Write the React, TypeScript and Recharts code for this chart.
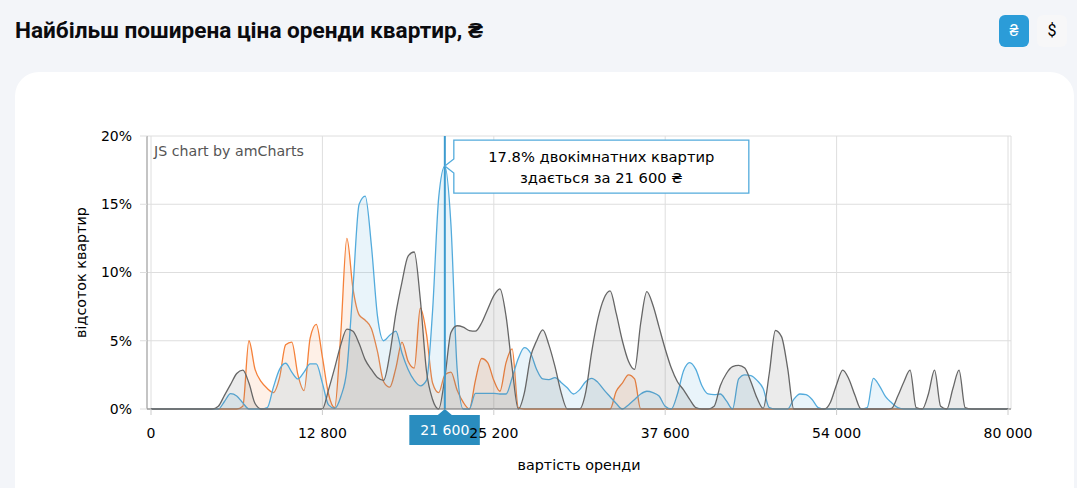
import { AreaChart, Area, XAxis, YAxis, CartesianGrid, ReferenceLine, ReferenceDot } from "recharts";

const prices = [
  0, 500, 900, 1400, 1800, 2300, 2700, 3200, 3700, 4100,
  4600, 5000, 5500, 5900, 6400, 6900, 7300, 7800, 8200, 8700,
  9100, 9600, 10100, 10500, 11000, 11400, 11900, 12300, 12800, 13200,
  13700, 14100, 14600, 15000, 15400, 15900, 16300, 16800, 17200, 17600,
  18100, 18500, 18900, 19400, 19800, 20300, 20700, 21100, 21600, 22000,
  22500, 22900, 23400, 23900, 24300, 24800, 25200, 25600, 26100, 26500,
  27000, 27400, 27900, 28300, 28700, 29200, 29600, 30100, 30500, 31000,
  31400, 31800, 32300, 32700, 33200, 33600, 34100, 34500, 34900, 35400,
  35800, 36300, 36700, 37200, 37600, 38200, 38800, 39300, 39900, 40500,
  41100, 41700, 42300, 42900, 43400, 44000, 44600, 45200, 45800, 46400,
  47000, 47600, 48100, 48700, 49300, 49900, 50500, 51000, 51600, 52200,
  52800, 53400, 54000, 54900, 55900, 56800, 57700, 58600, 59600, 60500,
  61400, 62400, 63300, 64200, 65100, 66100, 67000, 67900, 68900, 69800,
  70700, 71600, 72600, 73500, 74400, 75400, 76300, 77200, 78100, 79100,
  80000,
];

const oneRoom = [
  0, 0, 0, 0, 0, 0, 0, 0, 0, 0,
  0, 0, 0, 0, 0, 0.2, 5, 2.9, 2, 1.5,
  1.2, 2.3, 4.7, 4.9, 2.5, 1.35, 5.2, 6.2, 3.8, 1.1,
  0.1, 5.5, 12.5, 8.8, 6.9, 6.5, 5.9, 4.2, 2, 1.6,
  3, 4.9, 3.5, 3, 7.4, 5.5, 1.9, 1.2, 2.5, 2.7,
  1.4, 0.5, 0, 2.1, 3.7, 3.4, 2.1, 1.3, 3.4, 4.4,
  0.1, 0, 0, 0, 0, 0, 0, 0, 0, 0,
  0, 0, 0, 0, 0, 0, 1.3, 1.9, 2.5, 2.2,
  0, 0, 0, 0, 0, 0, 0, 0, 0, 0,
  0, 0, 0, 0, 0, 0, 0, 0, 0, 0,
  0, 0, 0, 0, 0, 0, 0, 0, 0, 0,
  0, 0, 0, 0, 0, 0, 0, 0, 0, 0,
  0, 0, 0, 0, 0, 0, 0, 0, 0, 0,
  0, 0, 0, 0, 0, 0, 0, 0, 0, 0,
  0,
];

const twoRoom = [
  0, 0, 0, 0, 0, 0, 0, 0, 0, 0,
  0, 0, 0.55, 1.12, 0.95, 0.45, 0, 0, 0, 0.1,
  1.6, 2.9, 3.35, 2.7, 2.2, 2.7, 3.3, 3.3, 1.9, 0.3,
  0.05, 0.9, 2.9, 8.9, 15, 15.6, 12, 6.8, 5, 5.4,
  5.7, 4.1, 2.9, 2.1, 1.7, 2.1, 7.2, 15.5, 17.8, 13.5,
  3, 0, 0, 1.15, 1.15, 1.15, 1.15, 1.1, 1.1, 2.3,
  3.7, 4.5, 4.1, 2.9, 2.2, 2.15, 2.3, 1.95, 1.55, 1.1,
  1.4, 2, 2.25, 1.95, 1.4, 0.9, 0.4, 0, 0.3, 0.7,
  1.1, 1.3, 1.2, 0.95, 0.2, 0, 1.1, 2.8, 3.4, 2.9,
  1.7, 1.1, 1.05, 1.1, 0.6, 0, 2.2, 2.5, 2.45, 2.1,
  1.5, 0.1, 0, 0, 0, 0.7, 1.1, 1.05, 0.7, 0.1,
  0, 0, 0, 0, 0, 0, 0, 0.1, 2.25, 1.7,
  0.9, 0.45, 0.1, 0, 0, 0, 0, 0, 0, 0,
  0, 0, 0, 0, 0, 0, 0, 0, 0, 0,
  0,
];

const threeRoom = [
  0, 0, 0, 0, 0, 0, 0, 0, 0, 0,
  0, 0.2, 1, 1.8, 2.6, 2.85, 1.9, 0.4, 0, 0,
  0, 0, 0, 0, 0, 0, 0, 0, 0, 1.4,
  3, 4.7, 5.85, 5.7, 4.8, 3.6, 2.9, 2.3, 2.1, 4,
  7, 9.3, 11.2, 11.5, 8, 2.8, 0.7, 0, 2.3, 5.6,
  6.1, 6, 5.75, 5.7, 6.3, 7.3, 8.3, 8.8, 6.8, 3,
  0, 1.2, 3.8, 5, 5.8, 4.7, 3.1, 1.2, 0, 0,
  0, 1.2, 4.2, 6.6, 8.1, 8.65, 7, 5, 3.5, 2.9,
  6.3, 8.6, 7.6, 6, 4.4, 3, 2, 1.4, 0.7, 0.1,
  0, 0, 0.2, 1.7, 2.6, 3.1, 3.2, 3, 2, 0.8,
  0.05, 2.6, 5.75, 5.3, 3, 0, 0, 0, 0, 0,
  0, 0.5, 1.8, 2.85, 2.2, 1, 0, 0, 0, 0,
  0, 0.05, 0.95, 2, 2.85, 0.1, 0, 1.1, 2.85, 0.2,
  0, 1.5, 2.85, 0.1, 0, 0, 0, 0, 0, 0,
  0,
];

const xTicks = [0, 12800, 25200, 37600, 54000, 80000];
const yTicks = [0, 5, 10, 15, 20];
const cursorPrice = 21600;
const cursorShare = 17.8;

const chartData = prices.map((price, i) => ({
  price,
  oneRoom: oneRoom[i],
  twoRoom: twoRoom[i],
  threeRoom: threeRoom[i],
}));

const FONT = "'DejaVu Sans', Verdana, sans-serif";
const BLUE = "#53abdc";
const ORANGE = "#f5813a";
const GRAY = "#666666";

const formatPrice = (v: number) => String(v).replace(/\B(?=(\d{3})+$)/g, " ");

// balloon next to the peak, anchored on the dot position
const Balloon = ({ cx, cy }: any) => {
  const l = cx + 9;
  const top = cy - 26;
  const r = l + 295;
  const b = top + 53;
  return (
    <g>
      <path
        d={`M${l} ${top}H${r}V${b}H${l}V${cy + 7}L${cx} ${cy}L${l} ${cy - 7}Z`}
        fill="#fff"
        stroke={BLUE}
        strokeWidth={1.3}
      />
      <text x={(l + r) / 2} y={top + 22} textAnchor="middle" fontSize={14.7} fill="#000" fontFamily={FONT}>
        17.8% двокімнатних квартир
      </text>
      <text x={(l + r) / 2} y={top + 43} textAnchor="middle" fontSize={14.7} fill="#000" fontFamily={FONT}>
        здається за 21 600 ₴
      </text>
    </g>
  );
};

// blue price flag under the axis
const CursorFlag = ({ cx, cy }: any) => (
  <g>
    <path
      d={`M${cx - 35.5} ${cy + 6}H${cx - 7}L${cx} ${cy}L${cx + 7} ${cy + 6}H${cx + 35}V${cy + 36}H${cx - 35.5}Z`}
      fill="#2a8dbf"
    />
    <text x={cx} y={cy + 26} textAnchor="middle" fontSize={14} fill="#fff" fontFamily={FONT}>
      {formatPrice(cursorPrice)}
    </text>
  </g>
);

export default function App() {
  return (
    <div style={{ position: "fixed", left: 0, top: 0, width: 1077, height: 488, background: "#f3f5f9", overflow: "hidden" }}>
      <div
        style={{
          position: "absolute",
          left: 15,
          top: 17,
          fontFamily: "Roboto, sans-serif",
          fontWeight: 700,
          fontSize: 22.6,
          lineHeight: "28px",
          color: "#0b0b0f",
          whiteSpace: "nowrap",
        }}
      >
        Найбільш поширена ціна оренди квартир, ₴
      </div>
      <div
        style={{
          position: "absolute",
          left: 999,
          top: 15,
          width: 30,
          height: 32,
          borderRadius: 6,
          background: "#2b9cd8",
          color: "#fff",
          fontFamily: "Roboto, sans-serif",
          fontSize: 16,
          lineHeight: "32px",
          textAlign: "center",
        }}
      >
        ₴
      </div>
      <div
        style={{
          position: "absolute",
          left: 1037,
          top: 15,
          width: 30,
          height: 32,
          borderRadius: 6,
          background: "#f7f7f8",
          color: "#000",
          fontFamily: "Roboto, sans-serif",
          fontSize: 16,
          lineHeight: "32px",
          textAlign: "center",
        }}
      >
        $
      </div>
      <div style={{ position: "absolute", left: 15, top: 72, width: 1059, height: 440, borderRadius: 24, background: "#fff" }} />

      <div style={{ position: "absolute", left: 0, top: 0 }}>
        <AreaChart
          width={1077}
          height={488}
          data={chartData}
          margin={{ top: 136, right: 66, bottom: 49, left: 97 }}
        >
          <CartesianGrid stroke="#dedede" strokeWidth={1} />
          <Area
            dataKey="oneRoom"
            type="monotone"
            stroke={ORANGE}
            strokeWidth={1.3}
            fill={ORANGE}
            fillOpacity={0.12}
            dot={false}
            activeDot={false}
            isAnimationActive={false}
          />
          <Area
            dataKey="twoRoom"
            type="monotone"
            stroke={BLUE}
            strokeWidth={1.3}
            fill={BLUE}
            fillOpacity={0.13}
            dot={false}
            activeDot={false}
            isAnimationActive={false}
          />
          <Area
            dataKey="threeRoom"
            type="monotone"
            stroke={GRAY}
            strokeWidth={1.3}
            fill={GRAY}
            fillOpacity={0.13}
            dot={false}
            activeDot={false}
            isAnimationActive={false}
          />
          <XAxis
            dataKey="price"
            ticks={xTicks}
            interval={0}
            height={30}
            padding={{ left: 4, right: 3 }}
            tickFormatter={formatPrice}
            tick={{ fill: "#000", fontSize: 14, fontFamily: FONT }}
            tickLine={{ stroke: "#ccc" }}
            tickSize={6}
            tickMargin={13}
            axisLine={{ stroke: "#777" }}
            label={{ value: "вартість оренди", position: "bottom", offset: 21, fill: "#000", fontSize: 14.3, fontFamily: FONT }}
          />
          <YAxis
            domain={[0, 20]}
            ticks={yTicks}
            width={50}
            tickFormatter={(v: number) => `${v}%`}
            tick={{ fill: "#000", fontSize: 14, fontFamily: FONT }}
            tickLine={{ stroke: "#ddd" }}
            tickSize={7}
            tickMargin={8}
            axisLine={{ stroke: "#999" }}
            label={{ value: "відсоток квартир", angle: -90, position: "left", offset: 16, textAnchor: "middle", fill: "#000", fontSize: 14.3, fontFamily: FONT }}
          />
          <ReferenceLine x={cursorPrice} stroke="#3d9bcf" strokeWidth={2} />
          <ReferenceDot x={cursorPrice} y={cursorShare} ifOverflow="visible" shape={<Balloon />} zIndex={1000} />
          <ReferenceDot x={cursorPrice} y={0} ifOverflow="visible" shape={<CursorFlag />} zIndex={1000} />
        </AreaChart>
      </div>

      <div style={{ position: "absolute", left: 154, top: 143, fontFamily: FONT, fontSize: 14.2, color: "#555", whiteSpace: "nowrap" }}>
        JS chart by amCharts
      </div>
    </div>
  );
}
